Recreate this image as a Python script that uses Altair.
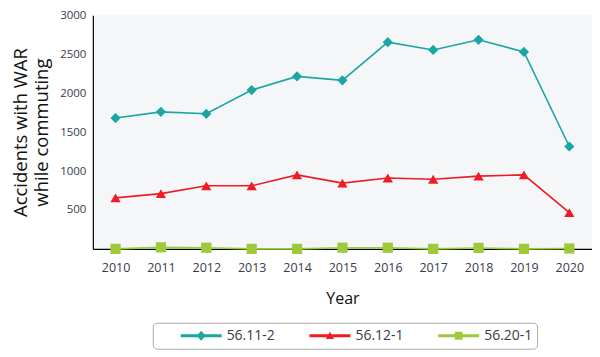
import altair as alt
import pandas as pd

years = [str(y) for y in range(2010, 2021)]
series_names = ["56.11-2", "56.12-1", "56.20-1"]
s_56_11_2 = [1680, 1760, 1735, 2040, 2215, 2165, 2655, 2555, 2685, 2530, 1315]
s_56_12_1 = [655, 710, 810, 810, 950, 845, 910, 895, 935, 950, 465]
s_56_20_1 = [0, 20, 15, 0, 0, 15, 15, 0, 12, 0, 5]
y_ticks = [500, 1000, 1500, 2000, 2500, 3000]

colors = ["#1aa7a4", "#ee1c25", "#9dc93a"]
marker_shapes = ["diamond", "triangle-up", "square"]
legend_paths = [
    "M-1,-0.07L1,-0.07L1,0.07L-1,0.07Z M-0.22,0L0,-0.24L0.22,0L0,0.24Z",
    "M-1,-0.07L1,-0.07L1,0.07L-1,0.07Z M0,-0.2L0.2,0.16L-0.2,0.16Z",
    "M-1,-0.07L1,-0.07L1,0.07L-1,0.07Z M-0.19,-0.19L0.19,-0.19L0.19,0.19L-0.19,0.19Z",
]

rows = []
for name, vals in zip(series_names, [s_56_11_2, s_56_12_1, s_56_20_1]):
    for yr, v in zip(years, vals):
        rows.append({"Year": yr, "series": name, "value": v})
df = pd.DataFrame(rows)

FONT = "Open Sans"

x_enc = alt.X(
    "Year:O",
    scale=alt.Scale(type="point", padding=0.5),
    sort=years,
    axis=alt.Axis(
        title="Year", labelAngle=0, ticks=False, grid=False,
        domainColor="#000000", domainWidth=1.2,
        labelFont=FONT, labelFontSize=12.5, labelColor="#3a3a4a", labelPadding=13,
        titleFont=FONT, titleFontSize=16, titleFontWeight="normal", titleColor="#111111",
        titlePadding=16,
    ),
)
y_enc = alt.Y(
    "value:Q",
    scale=alt.Scale(domain=[0, 3000], nice=False),
    axis=alt.Axis(
        title=["Accidents with WAR", "while commuting"], values=y_ticks, format="d",
        ticks=False, grid=False, domainColor="#000000", domainWidth=1.2,
        labelFont=FONT, labelFontSize=11.5, labelColor="#3a3a4a", labelPadding=7,
        titleFont=FONT, titleFontSize=18.5, titleFontWeight="normal", titleColor="#111111",
        titleLineHeight=21, titlePadding=8,
    ),
)

color_plain = alt.Color("series:N", scale=alt.Scale(domain=series_names, range=colors), legend=None)

lines = alt.Chart(df).mark_line(strokeWidth=1.6).encode(x=x_enc, y=y_enc, color=color_plain)
points = alt.Chart(df).mark_point(filled=True, size=105, opacity=1).encode(
    x=x_enc, y=y_enc, color=color_plain,
    shape=alt.Shape("series:N", scale=alt.Scale(domain=series_names, range=marker_shapes), legend=None),
)

leg = alt.Legend(
    title=None, orient="none", legendX=60, legendY=308, direction="horizontal", columns=3,
    symbolSize=1681, symbolStrokeWidth=0, clipHeight=18, labelFont=FONT, labelFontSize=14,
    labelColor="#3a3a4a", labelOffset=5, columnPadding=10, gridAlign="all",
    strokeColor="#aaaaaa", cornerRadius=4, padding=4, symbolOffset=24, fillColor="#ffffff",
)
legend_layer = alt.Chart(df).transform_filter("datum.value < -1").mark_point(filled=True, opacity=1).encode(
    x=x_enc, y=y_enc,
    color=alt.Color("series:N", scale=alt.Scale(domain=series_names, range=colors), legend=leg),
    shape=alt.Shape("series:N", scale=alt.Scale(domain=series_names, range=legend_paths), legend=leg),
)

chart = (
    alt.layer(lines, points, legend_layer)
    .resolve_scale(color="independent", shape="independent")
    .properties(
        width=500, height=234,
        autosize=alt.AutoSizeParams(type="none"),
        padding={"left": 85, "top": 7, "right": 0, "bottom": 108},
    )
    .configure_view(fill="#f5f6f8", stroke=None)
)

chart.save("out.html", embed_options={"renderer": "svg", "actions": False})
